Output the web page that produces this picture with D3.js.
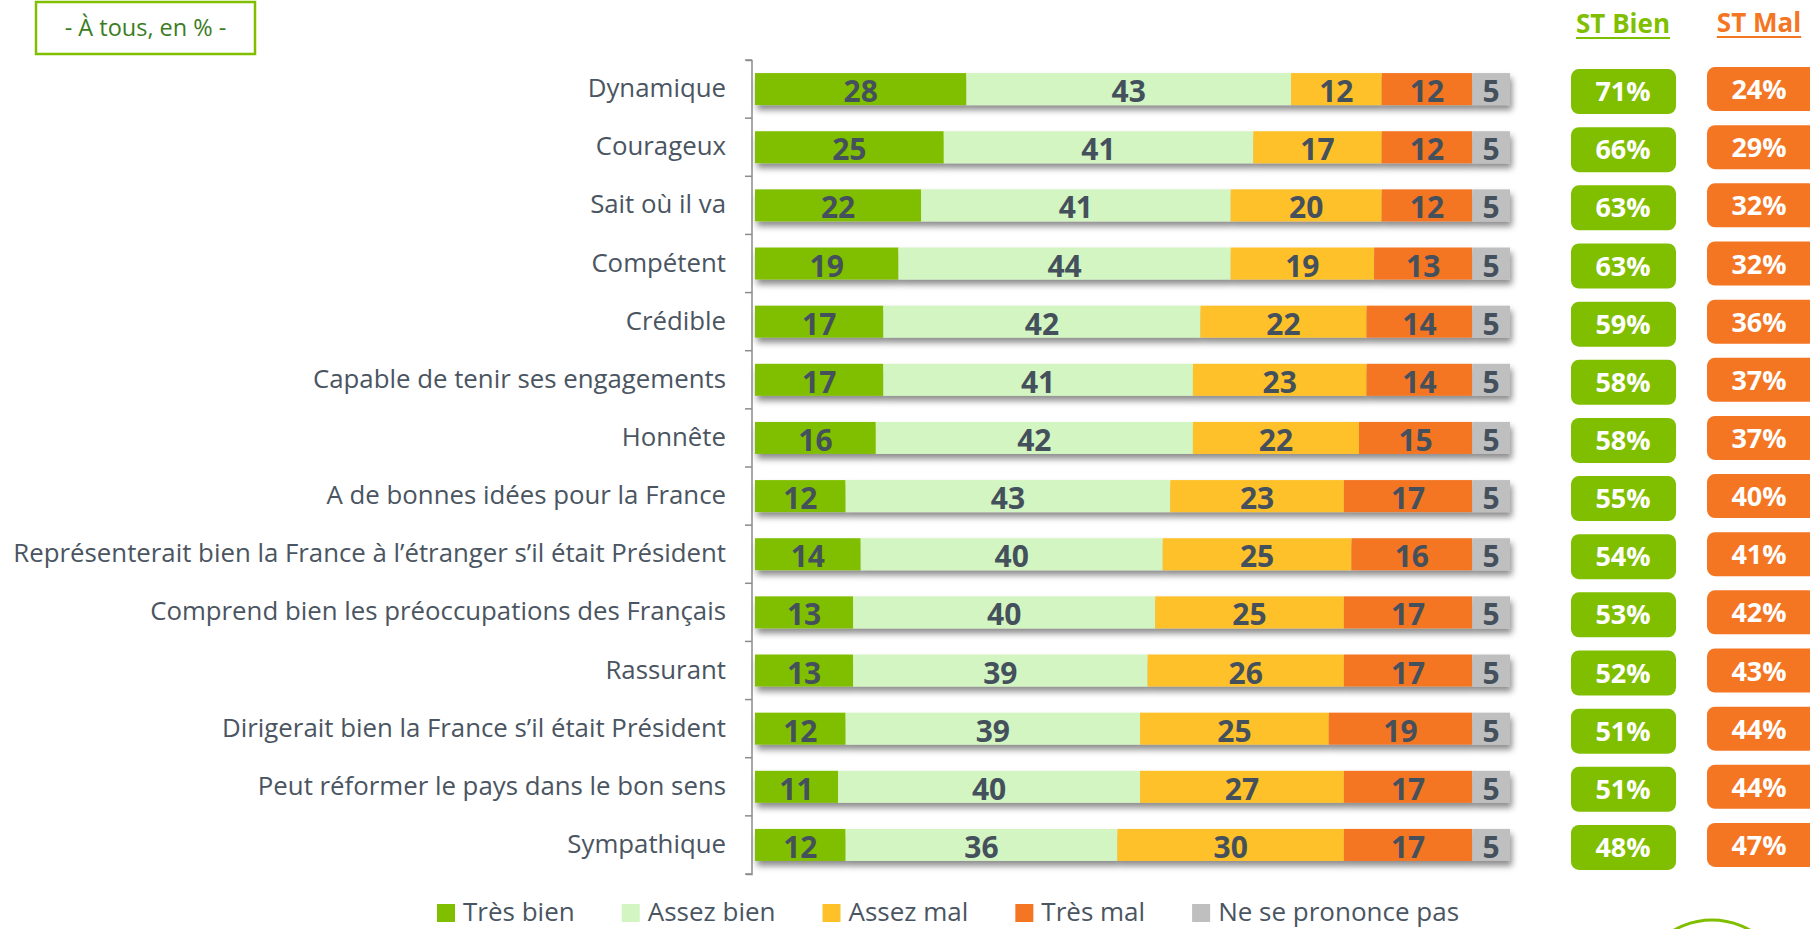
<!DOCTYPE html>
<html><head><meta charset="utf-8">
<script src="https://cdn.jsdelivr.net/npm/d3@7"></script>
<style>
html,body{margin:0;padding:0;background:#fff;}
svg{display:block;font-family:"Open Sans",Lato,sans-serif;}
</style></head>
<body>
<svg id="chart" width="1810" height="929"></svg>
<script>
const categories = [
  "Dynamique","Courageux","Sait où il va","Compétent","Crédible",
  "Capable de tenir ses engagements","Honnête","A de bonnes idées pour la France",
  "Représenterait bien la France à l’étranger s’il était Président",
  "Comprend bien les préoccupations des Français","Rassurant",
  "Dirigerait bien la France s’il était Président","Peut réformer le pays dans le bon sens",
  "Sympathique"
];
const seriesNames = ["Très bien","Assez bien","Assez mal","Très mal","Ne se prononce pas"];
const tresBien   = [28,25,22,19,17,17,16,12,14,13,13,12,11,12];
const assezBien  = [43,41,41,44,42,41,42,43,40,40,39,39,40,36];
const assezMal   = [12,17,20,19,22,23,22,23,25,25,26,25,27,30];
const tresMal    = [12,12,12,13,14,14,15,17,16,17,17,19,17,17];
const nsp        = [5,5,5,5,5,5,5,5,5,5,5,5,5,5];
const stBien     = [71,66,63,63,59,58,58,55,54,53,52,51,51,48];
const stMal      = [24,29,32,32,36,37,37,40,41,42,43,44,44,47];
const colors = ["#80bf00","#d3f5c1","#fec12a","#f47623","#bfbfbf"];
const textDark = "#44505c";
const labelColor = "#4a5561";

const svg = d3.select("#chart");
const defs = svg.append("defs");
const f = defs.append("filter").attr("id","shadow").attr("x","-5%").attr("y","-30%").attr("width","110%").attr("height","180%");
f.append("feDropShadow").attr("dx",2).attr("dy",5).attr("stdDeviation",3).attr("flood-color","#000").attr("flood-opacity",0.45);

const seriesData = [tresBien,assezBien,assezMal,tresMal,nsp];
const rows = categories.map((c,i)=>{
  const o = {cat:c};
  seriesNames.forEach((s,j)=>o[s]=seriesData[j][i]);
  return o;
});
const stack = d3.stack().keys(seriesNames)(rows);

const x = d3.scaleLinear().domain([0,100]).range([755,1510]);
const y = d3.scaleBand().domain(categories).range([60,874]).paddingInner(0.45).paddingOuter(0.225);

// axis
const axis = svg.append("g").attr("transform","translate(752,0)")
  .call(d3.axisLeft(y).tickFormat("").tickSize(0));
axis.select(".domain").attr("stroke","#8c8c8c").attr("stroke-width",1.5).attr("d","M-6,60.5H0V874.5H-6");
const step = y.step();
const tickYs = categories.map(c=>y(c)-(step-y.bandwidth())/2).concat([874]);
axis.selectAll(".tk").data(tickYs).join("line").attr("class","tk")
  .attr("x1",-7).attr("x2",0).attr("y1",d=>d).attr("y2",d=>d)
  .attr("stroke","#8c8c8c").attr("stroke-width",1.5);

// category labels
svg.append("g").selectAll("text").data(categories).join("text")
  .attr("x",726).attr("y",c=>y(c)+y.bandwidth()/2+8)
  .attr("text-anchor","end").attr("font-size",25.8).attr("fill",labelColor)
  .text(c=>c);

// bars
const barRows = svg.append("g").selectAll("g.row").data(categories).join("g")
  .attr("class","row").attr("filter","url(#shadow)");
barRows.each(function(c,i){
  const g = d3.select(this);
  stack.forEach((layer,j)=>{
    const d = layer[i];
    g.append("rect").attr("x",x(d[0])).attr("width",x(d[1])-x(d[0]))
      .attr("y",y(c)).attr("height",y.bandwidth()).attr("fill",colors[j]);
  });
});
const lbl = svg.append("g");
stack.forEach((layer,j)=>{
  lbl.selectAll(null).data(layer).join("text")
    .attr("x",d=>(x(d[0])+x(d[1]))/2)
    .attr("y",(d,i)=>y(categories[i])+y.bandwidth()/2+13)
    .attr("text-anchor","middle").attr("font-weight",700).attr("font-size",30)
    .attr("fill",textDark).text(d=>d[1]-d[0]);
});

// ST boxes
const stG = svg.append("g");
stG.selectAll("rect.b").data(stBien).join("rect").attr("class","b")
  .attr("x",1571).attr("width",105).attr("y",(d,i)=>y(categories[i])+y.bandwidth()/2-20).attr("height",45)
  .attr("rx",8).attr("fill","#80bf00");
stG.selectAll("text.b").data(stBien).join("text").attr("class","b")
  .attr("x",1623).attr("y",(d,i)=>y(categories[i])+y.bandwidth()/2+12)
  .attr("text-anchor","middle").attr("font-weight",700).attr("font-size",27).attr("fill","#fff")
  .text(d=>d+"%");
stG.selectAll("rect.m").data(stMal).join("rect").attr("class","m")
  .attr("x",1707).attr("width",110).attr("y",(d,i)=>y(categories[i])+y.bandwidth()/2-22).attr("height",44)
  .attr("rx",8).attr("fill","#f47623");
stG.selectAll("text.m").data(stMal).join("text").attr("class","m")
  .attr("x",1759).attr("y",(d,i)=>y(categories[i])+y.bandwidth()/2+10)
  .attr("text-anchor","middle").attr("font-weight",700).attr("font-size",27).attr("fill","#fff")
  .text(d=>d+"%");

// headers
const headers = [{t:"ST Bien",x:1623,c:"#80bf00",y:33},{t:"ST Mal",x:1759,c:"#f47623",y:32}];
headers.forEach(h=>{
  const t = svg.append("text").attr("x",h.x).attr("y",h.y).attr("text-anchor","middle")
    .attr("font-weight",700).attr("font-size",26).attr("fill",h.c).text(h.t);
  const w = t.node().getComputedTextLength();
  svg.append("line").attr("x1",h.x-w/2).attr("x2",h.x+w/2).attr("y1",h.y+5).attr("y2",h.y+5)
    .attr("stroke",h.c).attr("stroke-width",2);
});

// top-left box
svg.append("rect").attr("x",36).attr("y",2).attr("width",219).attr("height",52)
  .attr("fill","#fff").attr("stroke","#80bf00").attr("stroke-width",2.5);
svg.append("text").attr("x",145.5).attr("y",36).attr("text-anchor","middle")
  .attr("font-size",23.5).attr("fill","#3b7d1e").text("- À tous, en % -");

// legend
const leg = svg.append("g");
let lx = 437;
seriesNames.forEach((s,j)=>{
  leg.append("rect").attr("x",lx).attr("y",904).attr("width",18).attr("height",18).attr("fill",colors[j]);
  const t = leg.append("text").attr("x",lx+26).attr("y",921).attr("font-size",26).attr("fill",labelColor).text(s);
  lx += 26 + t.node().getComputedTextLength() + 47;
});

// logo arc
svg.append("ellipse").attr("cx",1712).attr("cy",1000).attr("rx",78).attr("ry",80)
  .attr("fill","none").attr("stroke","#80bf00").attr("stroke-width",3);
</script>
</body></html>
